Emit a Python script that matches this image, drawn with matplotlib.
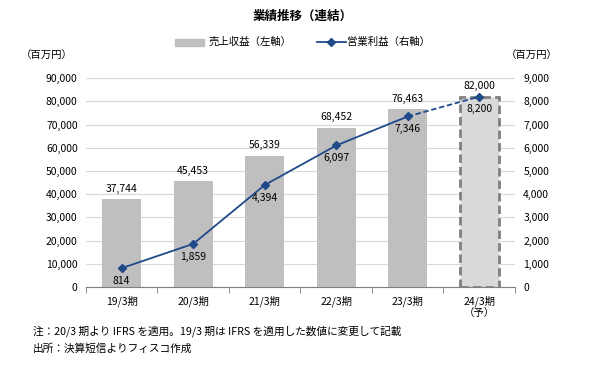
import numpy as np
import matplotlib.pyplot as plt

plt.rcParams['font.family'] = ['Noto Sans CJK JP', 'DejaVu Sans']

# データ
periods = ['19/3期', '20/3期', '21/3期', '22/3期', '23/3期', '24/3期\n（予）']
sales = [37744, 45453, 56339, 68452, 76463, 82000]
op_income = [814, 1859, 4394, 6097, 7346, 8200]

bar_color = '#bfbfbf'
fc_color = '#d9d9d9'
line_color = '#1f4a8a'

fig = plt.figure(figsize=(5.95, 3.7), dpi=100)
ax = fig.add_axes([0.1445, 0.2243, 0.721, 0.5647])
ax2 = ax.twinx()

x = np.arange(len(periods))
n = len(periods)

# 棒グラフ（売上収益）
ax.bar(x[:-1], sales[:-1], width=0.55, color=bar_color, zorder=2)
ax.bar(x[-1], sales[-1], width=0.55, color=fc_color, edgecolor='#808080',
       linewidth=2, linestyle=(0, (3, 1.5)), zorder=2)
for xi, v in zip(x, sales):
    ax.text(xi, v + 2500, f'{v:,}', ha='center', va='bottom', fontsize=7.5)

ax.set_ylim(0, 90000)
ax.set_yticks(np.arange(0, 90001, 10000))
ax.set_yticklabels([f'{v:,}' for v in range(0, 90001, 10000)])
ax.set_xlim(-0.5, n - 0.5)
ax.set_xticks(x)
ax.set_xticklabels(periods, fontsize=7.5)
ax.set_xticks(np.arange(-0.5, n, 1), minor=True)
ax.tick_params(axis='x', which='major', length=0, pad=6)
ax.tick_params(axis='x', which='minor', length=4, color='#808080')
ax.tick_params(axis='y', length=0, labelsize=7.5, pad=6)
ax.grid(axis='y', color='#d9d9d9', linewidth=0.8, zorder=0)
ax.set_axisbelow(True)
for s in ['top', 'left', 'right']:
    ax.spines[s].set_visible(False)
ax.spines['bottom'].set_color('#808080')

# 折れ線（営業利益）
ax2.plot(x[:-1], op_income[:-1], color=line_color, linewidth=1.3,
         marker='D', markersize=4.5, zorder=3)
ax2.plot(x[-2:], op_income[-2:], color=line_color, linewidth=1.3,
         linestyle=(0, (3, 1.5)), zorder=3)
ax2.plot(x[-1], op_income[-1], color=line_color, marker='D',
         markersize=4.5, zorder=3)
for xi, v in zip(x, op_income):
    ax2.text(xi, v - 330, f'{v:,}', ha='center', va='top', fontsize=7.5)
ax2.set_ylim(0, 9000)
ax2.set_yticks(np.arange(0, 9001, 1000))
ax2.set_yticklabels([f'{v:,}' for v in range(0, 9001, 1000)])
ax2.tick_params(axis='y', length=0, labelsize=7.5, pad=6)
for s in ['top', 'left', 'right', 'bottom']:
    ax2.spines[s].set_visible(False)

# タイトル・凡例
fig.text(0.508, 0.955, '業績推移（連結）', ha='center', va='center',
         fontsize=9, fontweight='bold')
fig.patches.append(plt.Rectangle((0.294, 0.877), 0.049, 0.018,
                                 transform=fig.transFigure, color=bar_color))
fig.text(0.350, 0.886, '売上収益（左軸）', ha='left', va='center', fontsize=7.5)
fig.lines.append(plt.Line2D([0.533, 0.557, 0.581], [0.886, 0.886, 0.886],
                            transform=fig.transFigure, color=line_color,
                            linewidth=1.3, marker='D', markersize=4, markevery=[1]))
fig.text(0.583, 0.886, '営業利益（右軸）', ha='left', va='center', fontsize=7.5)

fig.text(0.035, 0.85, '（百万円）', ha='left', va='center', fontsize=7.5)
fig.text(0.85, 0.85, '（百万円）', ha='left', va='center', fontsize=7.5)

# 注記
fig.text(0.055, 0.105, '注：20/3 期より IFRS を適用。19/3 期は IFRS を適用した数値に変更して記載',
         ha='left', va='center', fontsize=7.7)
fig.text(0.055, 0.058, '出所：決算短信よりフィスコ作成', ha='left', va='center', fontsize=7.7)

fig.savefig('out.png', dpi=100)
